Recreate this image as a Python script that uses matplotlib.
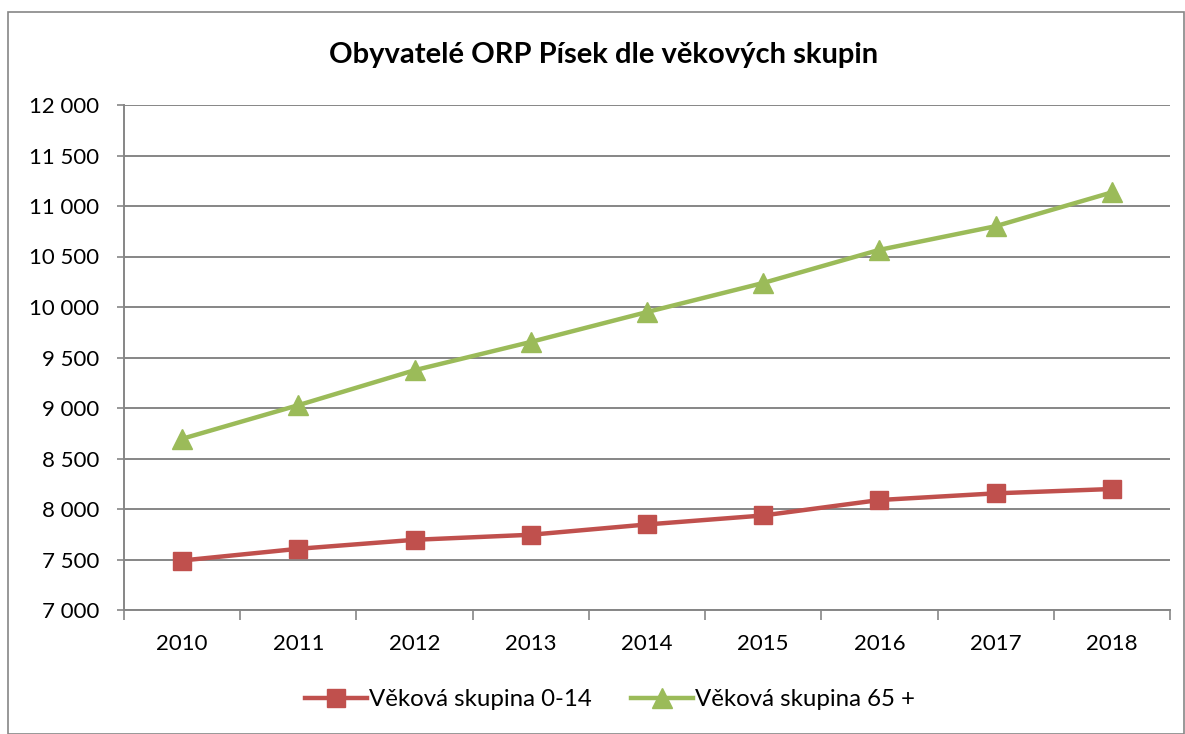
import matplotlib
matplotlib.use("Agg")
import matplotlib.pyplot as plt
from matplotlib.ticker import FuncFormatter, MultipleLocator, FixedLocator
from matplotlib.patches import Rectangle

years = ["2010", "2011", "2012", "2013", "2014", "2015", "2016", "2017", "2018"]
age_0_14 = [7490, 7606, 7695, 7745, 7847, 7936, 8089, 8155, 8198]
age_65 = [8695, 9028, 9374, 9654, 9950, 10238, 10566, 10800, 11135]
labels = ["Věková skupina 0-14", "Věková skupina 65 +"]
title = "Obyvatelé ORP Písek dle věkových skupin"

plt.rcParams['font.family'] = ['Lato', 'DejaVu Sans']

fig = plt.figure(figsize=(11.85, 7.34), dpi=100)
fig.patches.append(Rectangle((8/1185, 0), 1 - 9/1185, 1 - 12/734, transform=fig.transFigure,
                             fill=False, edgecolor='#868686', linewidth=1.2))
ax = fig.add_axes([124/1185, 1 - 610/734, (1170-124)/1185, (610-105)/734])

x = list(range(len(years)))
red = '#C0504D'
green = '#9BBB59'
ax.plot(x, age_0_14, color=red, linewidth=3.2, marker='s', markersize=13.5, label=labels[0], zorder=3)
ax.plot(x, age_65, color=green, linewidth=3.2, marker='^', markersize=15, label=labels[1], zorder=3)

ax.set_xlim(-0.5, 8.5)
ax.set_ylim(7000, 12000)
ax.yaxis.set_major_locator(MultipleLocator(500))
ax.yaxis.set_major_formatter(FuncFormatter(lambda v, p: f"{int(v):,}".replace(",", " ")))
ax.set_xticks(x)
ax.set_xticklabels(years)
ax.xaxis.set_minor_locator(FixedLocator([i - 0.5 for i in range(10)]))

ax.grid(axis='y', color='#868686', linewidth=1.4)
ax.set_axisbelow(True)
for s in ['top', 'right']:
    ax.spines[s].set_visible(False)
for s in ['left', 'bottom']:
    ax.spines[s].set_color('#868686')
    ax.spines[s].set_linewidth(1.4)

ax.tick_params(axis='y', length=5, width=1.2, color='#868686', pad=13, labelsize=16)
ax.tick_params(axis='x', which='major', length=0, pad=17, labelsize=16)
ax.tick_params(axis='x', which='minor', length=7, width=1.2, color='#868686')

fig.text(604/1185, 1 - 55/734, title, ha='center', va='center', fontsize=21, fontweight='bold')

leg = fig.legend(loc='center', bbox_to_anchor=(610/1185, 1 - 700/734), ncol=2, frameon=False,
                 fontsize=17.3, handlelength=2.6, handletextpad=0.1, columnspacing=1.6)

fig.savefig("out.png", dpi=100)
